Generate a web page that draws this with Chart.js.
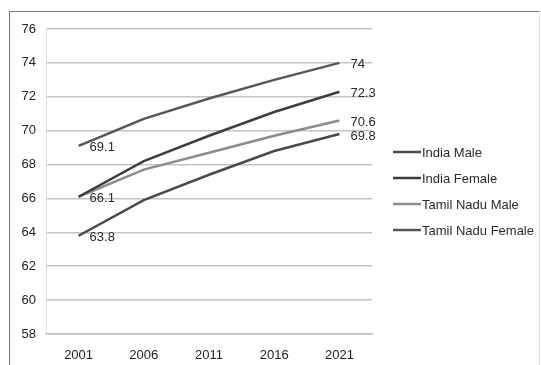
<!DOCTYPE html>
<html lang="en">
<head>
  <meta charset="UTF-8" />
  <title>Life Expectancy</title>
  <script src="https://cdn.jsdelivr.net/npm/chart.js"></script>
  <style>
    html, body { margin: 0; padding: 0; background: #fff; }
    .wrap { position: relative; width: 541px; height: 365px; overflow: hidden; }
    .frame { position: absolute; left: 9px; top: 11px; width: 531px; height: 360px;
             border-top: 1.5px solid #777; border-left: 1.5px solid #777;
             border-right: 1px solid #e4e4e4; box-sizing: border-box; }
    canvas { position: absolute; left: 0; top: 0; }
  </style>
</head>
<body>
  <div class="wrap">
    <div class="frame"></div>
    <canvas id="chart" width="541" height="365"></canvas>
  </div>

  <script>
    const years = ['2001', '2006', '2011', '2016', '2021'];
    const indiaMale = [63.8, 65.9, 67.4, 68.8, 69.8];
    const indiaFemale = [66.1, 68.2, 69.7, 71.1, 72.3];
    const tnMale = [66.1, 67.7, 68.7, 69.7, 70.6];
    const tnFemale = [69.1, 70.7, 71.9, 73.0, 74];
    const yTicks = [58, 60, 62, 64, 66, 68, 70, 72, 74, 76];

    const FONT = '"Liberation Sans", Arial, sans-serif';

    // value labels at first and last year, to the right of the point
    const endLabels = {
      id: 'endLabels',
      afterDatasetsDraw(chart) {
        const ctx = chart.ctx;
        const drawn = [];
        ctx.save();
        ctx.font = '13px ' + FONT;
        ctx.fillStyle = '#2a2a2a';
        ctx.textAlign = 'left';
        ctx.textBaseline = 'middle';
        chart.data.datasets.forEach((ds, di) => {
          const meta = chart.getDatasetMeta(di);
          [0, ds.data.length - 1].forEach(i => {
            const key = i + ':' + ds.data[i];
            if (drawn.includes(key)) return;
            drawn.push(key);
            const pt = meta.data[i];
            ctx.fillText(String(ds.data[i]), pt.x + 11, pt.y + 2);
          });
        });
        ctx.restore();
      }
    };

    // legend column on the right
    const sideLegend = {
      id: 'sideLegend',
      afterDraw(chart) {
        const ctx = chart.ctx;
        ctx.save();
        ctx.font = '13px ' + FONT;
        ctx.textAlign = 'left';
        ctx.textBaseline = 'middle';
        chart.data.datasets.forEach((ds, i) => {
          const y = 152 + i * 26;
          ctx.strokeStyle = ds.borderColor;
          ctx.lineWidth = 2.5;
          ctx.beginPath();
          ctx.moveTo(393, y);
          ctx.lineTo(421, y);
          ctx.stroke();
          ctx.fillStyle = '#2a2a2a';
          ctx.fillText(ds.label, 422, y + 1);
        });
        ctx.restore();
      }
    };

    const ctx = document.getElementById('chart');
    const myChart = new Chart(ctx, {
      type: 'line',
      data: {
        labels: years,
        datasets: [
          { label: 'India Male', data: indiaMale, borderColor: '#4a4a4a' },
          { label: 'India Female', data: indiaFemale, borderColor: '#3e3e3e' },
          { label: 'Tamil Nadu Male', data: tnMale, borderColor: '#8c8c8c' },
          { label: 'Tamil Nadu Female', data: tnFemale, borderColor: '#575757' }
        ]
      },
      options: {
        responsive: false,
        animation: false,
        events: [],
        layout: { padding: { left: 0, top: 29, right: 169, bottom: 0 } },
        elements: {
          line: { borderWidth: 2.5, tension: 0 },
          point: { radius: 0 }
        },
        plugins: { legend: { display: false }, tooltip: { enabled: false } },
        scales: {
          x: {
            offset: true,
            grid: { display: false },
            border: { display: true, color: '#bdbdbd', width: 1.5 },
            ticks: { color: '#222', font: { family: FONT, size: 13 }, padding: 6, maxRotation: 0 },
            afterFit(s) { s.height = 31; }
          },
          y: {
            min: 58,
            max: 76,
            afterBuildTicks(s) { s.ticks = yTicks.map(v => ({ value: v })); },
            grid: { color: '#c4c4c4', lineWidth: 1.5, drawTicks: false },
            border: { display: true, color: '#dedede', width: 1 },
            ticks: { color: '#222', font: { family: FONT, size: 13 }, padding: 10 },
            afterFit(s) { s.width = 46; }
          }
        }
      },
      plugins: [endLabels, sideLegend]
    });
  </script>
</body>
</html>
